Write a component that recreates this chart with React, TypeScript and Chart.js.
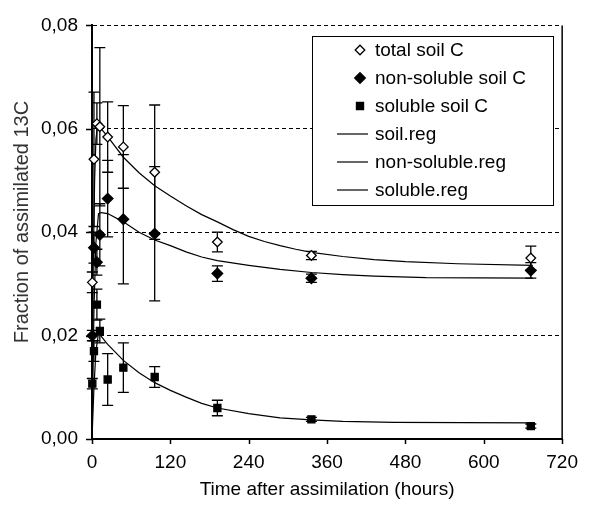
import React, { useEffect, useRef } from "react";
import { Chart, registerables } from "chart.js";

Chart.register(...registerables);

// ---------- data ----------
const obsHours = [0.5, 3, 7.5, 12, 24, 48, 96, 192, 336, 672];
const totalSoilC = [0.0303, 0.0541, 0.061, 0.0604, 0.0584, 0.0565, 0.0516, 0.0381, 0.0355, 0.035];
const totalSoilErr = [0.002, 0.013, 0.004, 0.0153, 0.0068, 0.008, 0.013, 0.0019, 0.0008, 0.0023];
const nonSolubleC = [0.02, 0.037, 0.0342, 0.0395, 0.0465, 0.0425, 0.0397, 0.032, 0.0311, 0.0326];
const nonSolubleErr = [0.001, 0.003, 0.0025, 0.006, 0.0074, 0.0125, 0.013, 0.0015, 0.0008, 0.0015];
const solubleC = [0.0107, 0.017, 0.026, 0.0209, 0.0115, 0.0138, 0.012, 0.006, 0.0038, 0.0025];
const solubleErr = [0.001, 0.002, 0.003, 0.0023, 0.005, 0.0048, 0.002, 0.0015, 0.0004, 0.0004];

const soilRegHours = [0, 2, 4, 6, 9, 12, 24, 48, 72, 96, 120, 144, 168, 192, 216, 240, 264, 288, 312, 336, 384, 432, 480, 560, 675];
const soilRegValues = [0, 0.035, 0.05, 0.058, 0.061, 0.0603, 0.0585, 0.0545, 0.0515, 0.049, 0.047, 0.0451, 0.0434, 0.042, 0.0405, 0.0392, 0.0382, 0.0374, 0.0367, 0.0361, 0.0353, 0.0347, 0.0343, 0.0339, 0.0336];
const nonSolRegHours = [0, 3, 6, 10, 14, 24, 48, 72, 96, 120, 144, 168, 192, 240, 288, 336, 384, 432, 512, 675];
const nonSolRegValues = [0, 0.025, 0.038, 0.0436, 0.0438, 0.0436, 0.042, 0.04, 0.0385, 0.0374, 0.0362, 0.0352, 0.0345, 0.0336, 0.0328, 0.0322, 0.0318, 0.0315, 0.0312, 0.0311];
const solRegHours = [0, 3, 6, 10, 12, 24, 48, 72, 96, 120, 144, 168, 192, 240, 288, 336, 384, 462, 675];
const solRegValues = [0, 0.01, 0.017, 0.0205, 0.0202, 0.0183, 0.0152, 0.0128, 0.0109, 0.0094, 0.0081, 0.0069, 0.006, 0.0049, 0.0041, 0.0037, 0.0034, 0.0032, 0.0031];

const seriesLabels = ["total soil C", "non-soluble soil C", "soluble soil C", "soil.reg", "non-soluble.reg", "soluble.reg"];
const xTitle = "Time after assimilation (hours)";
const yTitle = "Fraction of assimilated 13C";

const FONT = "'Liberation Sans', Arial, sans-serif";

const pts = (xs: number[], ys: number[]) => xs.map((x, i) => ({ x, y: ys[i] }));

function drawMarker(ctx: CanvasRenderingContext2D, style: string, x: number, y: number, r: number, fill: string) {
  ctx.beginPath();
  if (style === "rectRot") {
    ctx.moveTo(x - r, y);
    ctx.lineTo(x, y - r);
    ctx.lineTo(x + r, y);
    ctx.lineTo(x, y + r);
    ctx.closePath();
  } else {
    const s = Math.SQRT1_2 * r;
    ctx.rect(x - s, y - s, 2 * s, 2 * s);
  }
  ctx.fillStyle = fill;
  ctx.fill();
  ctx.lineWidth = 1.3;
  ctx.strokeStyle = "#000";
  ctx.stroke();
}

const errorBarsPlugin = {
  id: "errorBars",
  beforeDatasetsDraw(chart: any) {
    const { ctx, scales } = chart;
    const xs = scales.x;
    const ys = scales.y;
    ctx.save();
    ctx.strokeStyle = "#000";
    ctx.lineWidth = 1.3;
    chart.data.datasets.forEach((ds: any) => {
      if (!ds.errors) return;
      ds.data.forEach((p: any, i: number) => {
        const e = ds.errors[i];
        const px = xs.getPixelForValue(p.x);
        const yt = ys.getPixelForValue(p.y + e);
        const yb = ys.getPixelForValue(p.y - e);
        ctx.beginPath();
        ctx.moveTo(px, yt);
        ctx.lineTo(px, yb);
        ctx.moveTo(px - 5.5, yt);
        ctx.lineTo(px + 5.5, yt);
        ctx.moveTo(px - 5.5, yb);
        ctx.lineTo(px + 5.5, yb);
        ctx.stroke();
      });
    });
    ctx.restore();
  },
};

const decorPlugin = {
  id: "decor",
  afterDraw(chart: any) {
    const { ctx, chartArea, scales } = chart;
    const xs = scales.x;
    const ys = scales.y;
    ctx.save();
    // right border
    ctx.strokeStyle = "#000";
    ctx.lineWidth = 1.5;
    ctx.beginPath();
    ctx.moveTo(chartArea.right, chartArea.top);
    ctx.lineTo(chartArea.right, chartArea.bottom);
    ctx.stroke();
    // tick marks
    ctx.lineWidth = 1.5;
    ctx.beginPath();
    ys.ticks.forEach((t: any) => {
      const py = Math.round(ys.getPixelForValue(t.value)) + 0.5;
      ctx.moveTo(chartArea.left - 6, py);
      ctx.lineTo(chartArea.left, py);
    });
    xs.ticks.forEach((t: any) => {
      const px = Math.round(xs.getPixelForValue(t.value)) + 0.5;
      ctx.moveTo(px, chartArea.bottom);
      ctx.lineTo(px, chartArea.bottom + 5);
    });
    ctx.stroke();

    // axis titles
    ctx.fillStyle = "#000";
    ctx.font = `19px ${FONT}`;
    ctx.textAlign = "center";
    ctx.textBaseline = "middle";
    ctx.fillText(xTitle, (chartArea.left + chartArea.right) / 2, 490);
    ctx.save();
    ctx.translate(22, 222);
    ctx.rotate(-Math.PI / 2);
    ctx.fillStyle = "#333";
    ctx.font = `20px ${FONT}`;
    ctx.fillText(yTitle, 0, 0);
    ctx.restore();

    // legend
    const lx = 312.5, ly = 36.5, lw = 241, lh = 169;
    ctx.fillStyle = "#fff";
    ctx.fillRect(lx, ly, lw, lh);
    ctx.strokeStyle = "#000";
    ctx.lineWidth = 1;
    ctx.strokeRect(lx, ly, lw, lh);
    ctx.font = `19px ${FONT}`;
    ctx.textAlign = "left";
    ctx.textBaseline = "middle";
    chart.data.datasets.forEach((ds: any, i: number) => {
      const ry = 50 + i * 28;
      if (ds.showLine) {
        ctx.strokeStyle = "#000";
        ctx.lineWidth = 1.2;
        ctx.beginPath();
        ctx.moveTo(337, ry);
        ctx.lineTo(368, ry);
        ctx.stroke();
      } else {
        drawMarker(ctx, ds.pointStyle, 360, ry, ds.pointRadius, ds.backgroundColor);
      }
      ctx.fillStyle = "#000";
      ctx.fillText(ds.label, 375, ry + 1);
    });
    ctx.restore();
  },
};

export default function App() {
  const ref = useRef<HTMLCanvasElement>(null);
  useEffect(() => {
    document.body.style.margin = "0";
    const pointDs = (label: string, xs: number[], ys: number[], errs: number[], style: string, r: number, fill: string) => ({
      label,
      data: pts(xs, ys),
      errors: errs,
      showLine: false,
      pointStyle: style,
      pointRadius: r,
      pointHoverRadius: r,
      backgroundColor: fill,
      borderColor: "#000",
      pointBorderWidth: 1.3,
      borderWidth: 1.3,
      clip: false,
    });
    const lineDs = (label: string, xs: number[], ys: number[]) => ({
      label,
      data: pts(xs, ys),
      showLine: true,
      pointRadius: 0,
      borderColor: "#000",
      backgroundColor: "#000",
      borderWidth: 1.2,
      tension: 0,
      clip: false,
    });
    const chart = new Chart(ref.current as HTMLCanvasElement, {
      type: "scatter",
      data: {
        datasets: [
          pointDs(seriesLabels[0], obsHours, totalSoilC, totalSoilErr, "rectRot", 4.8, "#fff"),
          pointDs(seriesLabels[1], obsHours, nonSolubleC, nonSolubleErr, "rectRot", 5.3, "#000"),
          pointDs(seriesLabels[2], obsHours, solubleC, solubleErr, "rect", 5, "#000"),
          lineDs(seriesLabels[3], soilRegHours, soilRegValues),
          lineDs(seriesLabels[4], nonSolRegHours, nonSolRegValues),
          lineDs(seriesLabels[5], solRegHours, solRegValues),
        ] as any,
      },
      options: {
        animation: false,
        responsive: false,
        devicePixelRatio: 1,
        layout: { padding: { top: 22, right: 18, left: 0, bottom: 0 } },
        plugins: { legend: { display: false }, tooltip: { enabled: false } },
        scales: {
          x: {
            type: "linear",
            min: 0,
            max: 720,
            afterFit: (s: any) => { s.height = 67; },
            ticks: {
              stepSize: 120,
              maxRotation: 0,
              padding: 12,
              color: "#000",
              font: { family: FONT, size: 19 },
            },
            grid: { display: false, drawTicks: false },
            border: { display: true, color: "#000", width: 2 },
          },
          y: {
            type: "linear",
            min: 0,
            max: 0.08,
            afterFit: (s: any) => { s.width = 92; },
            ticks: {
              stepSize: 0.02,
              padding: 14,
              color: "#000",
              font: { family: FONT, size: 19 },
              callback: (v: any) => Number(v).toFixed(2).replace(".", ","),
            },
            grid: { display: true, color: "#000", lineWidth: 1, drawTicks: false },
            border: { display: true, color: "#000", width: 2, dash: [4, 3] },
          },
        },
      } as any,
      plugins: [errorBarsPlugin, decorPlugin],
    });
    return () => chart.destroy();
  }, []);
  return (
    <div style={{ width: 590, height: 506 }}>
      <canvas ref={ref} width={590} height={506} style={{ display: "block" }} />
    </div>
  );
}
